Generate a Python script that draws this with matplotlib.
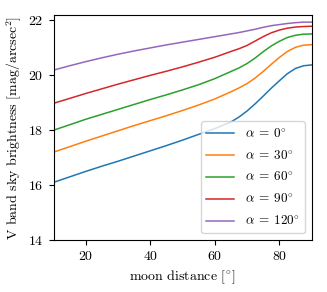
import matplotlib
matplotlib.use("Agg")
import matplotlib.pyplot as plt

matplotlib.rcParams["font.family"] = "serif"
matplotlib.rcParams["font.serif"] = ["cmr10", "DejaVu Serif"]
matplotlib.rcParams["mathtext.fontset"] = "cm"
matplotlib.rcParams["axes.formatter.use_mathtext"] = True
matplotlib.rcParams["axes.unicode_minus"] = False

# moon distance [deg]
dist = [10, 15, 20, 25, 30, 35, 40, 45, 50, 55, 60, 65, 67.5, 70, 72.5, 75,
        77.5, 80, 82.5, 85, 87.5, 90]

# V band sky brightness for each alpha
sb_0 = [16.10, 16.30, 16.50, 16.69, 16.87, 17.06, 17.25, 17.44, 17.64, 17.85, 18.06,
        18.30, 18.48, 18.70, 18.96, 19.24, 19.53, 19.80, 20.06, 20.25, 20.35, 20.38]
sb_30 = [17.20, 17.40, 17.60, 17.79, 17.98, 18.17, 18.35, 18.53, 18.72, 18.92, 19.14,
         19.40, 19.54, 19.70, 19.90, 20.14, 20.40, 20.65, 20.87, 21.02, 21.10, 21.12]
sb_60 = [18.00, 18.20, 18.40, 18.58, 18.76, 18.94, 19.12, 19.29, 19.47, 19.66, 19.88,
         20.14, 20.27, 20.43, 20.63, 20.86, 21.07, 21.24, 21.38, 21.46, 21.50, 21.51]
sb_90 = [18.98, 19.16, 19.34, 19.51, 19.68, 19.84, 20.00, 20.15, 20.31, 20.48, 20.66,
         20.87, 20.97, 21.09, 21.25, 21.41, 21.55, 21.65, 21.72, 21.76, 21.78, 21.79]
sb_120 = [20.19, 20.35, 20.50, 20.64, 20.77, 20.89, 21.00, 21.11, 21.21, 21.31, 21.41,
          21.51, 21.56, 21.62, 21.68, 21.75, 21.81, 21.85, 21.89, 21.92, 21.94, 21.94]

labels = [r"$\alpha\:=\:0^{\circ}$", r"$\alpha\:=\:30^{\circ}$", r"$\alpha\:=\:60^{\circ}$",
          r"$\alpha\:=\:90^{\circ}$", r"$\alpha\:=\:120^{\circ}$"]

fig = plt.figure(figsize=(3.27, 2.92), dpi=100)
ax = fig.add_axes([53.5 / 327, 52 / 292, 258 / 327, 225 / 292])

for ys, lab in zip([sb_0, sb_30, sb_60, sb_90, sb_120], labels):
    ax.plot(dist, ys, lw=1.1, label=lab)

ax.set_xlim(10, 90)
ax.set_ylim(14, 22.2)
ax.set_xticks([20, 40, 60, 80])
ax.set_yticks([14, 16, 18, 20, 22])
ax.tick_params(labelsize=10, length=3.5, width=0.8)
ax.set_xlabel(r"moon distance [$^{\circ}$]", fontsize=10)
ax.set_ylabel(r"V band sky brightness [mag/arcsec$^2$]", fontsize=10, labelpad=3)
ax.legend(loc="lower right", fontsize=9.5, handlelength=2.1, labelspacing=0.6)

plt.savefig("out.png", dpi=100)
